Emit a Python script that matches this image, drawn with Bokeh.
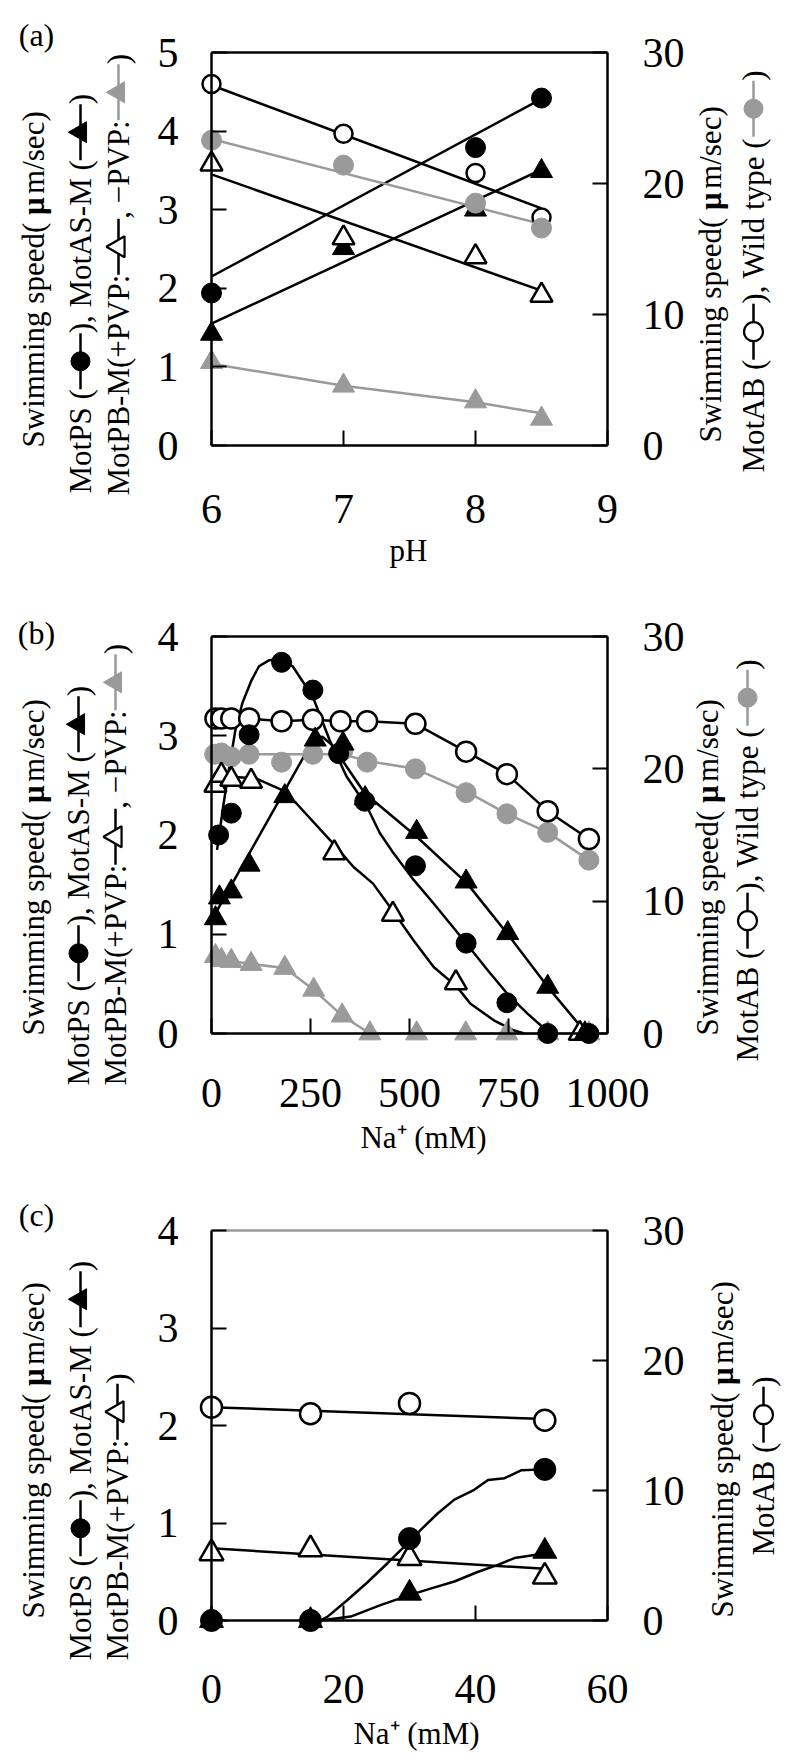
import math
from bokeh.plotting import figure
from bokeh.layouts import column
from bokeh.models import Range1d, LinearAxis, FixedTicker
from bokeh.core.properties import value
from bokeh.embed import file_html
from bokeh.resources import INLINE

# ---------------- data: panel (a)  (x = pH) ----------------
a_ph = [6, 7, 8, 8.5]
a_fit_ph = [6, 8.5]
a_motps = [1.94, float("nan"), 3.79, 4.42]
a_motps_fit = [2.15, 4.41]
a_motas = [1.42, 2.51, 3.00, 3.49]
a_motas_fit = [1.55, 3.51]
a_pvp = [3.58, 2.64, 2.40, 1.91]
a_pvp_fit = [3.45, 1.97]
a_nopvp = [1.06, 0.76, 0.56, 0.34]
a_nopvp_line = [1.04, 0.76, 0.55, 0.41]
a_motab = [27.6, 23.8, 20.8, 17.4]          # right axis
a_motab_fit = [27.5, 18.1]
a_wt = [23.3, 21.4, 18.5, 16.6]             # right axis
a_wt_fit = [23.4, 16.9]
a_xticks = [6, 7, 8, 9]
a_yticks = [0, 1, 2, 3, 4, 5]

# ---------------- data: panel (b)  (x = Na+ mM) ----------------
b_na_ab = [10, 25, 50, 95, 177, 256, 326, 393, 515, 643, 746, 849, 953]
b_motab = [23.8, 23.8, 23.8, 23.8, 23.6, 23.7, 23.6, 23.6, 23.4, 21.3, 19.6, 16.8, 14.7]
b_na_wt = [8, 25, 50, 95, 177, 256, 332, 393, 515, 643, 746, 849, 953]
b_wt = [21.1, 21.2, 20.9, 21.1, 20.5, 21.1, 21.4, 20.5, 20.0, 18.2, 16.6, 15.2, 13.1]
b_wt_line_x = [8, 330, 393, 515, 643, 746, 849, 953]
b_wt_line = [21.1, 21.1, 20.6, 20.0, 18.3, 16.6, 15.2, 13.1]
b_na_ps = [18, 50, 95, 177, 256, 321, 387, 515, 643, 746, 849, 953]
b_motps = [2.00, 2.22, 3.01, 3.74, 3.46, 2.82, 2.34, 1.69, 0.91, 0.31, 0.0, 0.0]
b_ps_curve_x = [14, 30, 44, 60, 78, 100, 120, 145, 171, 205, 256, 298, 341, 392,
                425, 459, 510, 561, 637, 697, 747, 798, 849]
b_ps_curve = [1.85, 2.30, 2.66, 3.05, 3.33, 3.55, 3.70, 3.76, 3.77, 3.70, 3.39, 2.96,
              2.59, 2.29, 2.02, 1.82, 1.55, 1.31, 0.94, 0.64, 0.40, 0.20, 0.02]
b_na_as = [10, 20, 50, 95, 185, 262, 332, 388, 518, 643, 748, 849, 943]
b_motas = [1.16, 1.37, 1.43, 1.70, 2.39, 2.96, 2.92, 2.37, 2.03, 1.53, 1.01, 0.47, 0.0]
b_as_line_x = [10, 260, 280, 306, 341, 387, 519, 646, 752, 849, 947]
b_as_line = [1.21, 2.98, 2.99, 2.90, 2.69, 2.42, 1.98, 1.51, 0.98, 0.47, 0.0]
b_na_pvp = [10, 25, 50, 100, 310, 458, 617, 930]
b_pvp = [2.50, 2.60, 2.56, 2.54, 1.82, 1.20, 0.51, 0.0]
b_pvp_line_x = [10, 44, 112, 180, 214, 315, 358, 408, 459, 510, 561, 620, 654, 714, 764, 790]
b_pvp_line = [2.52, 2.59, 2.57, 2.45, 2.32, 1.88, 1.68, 1.51, 1.23, 0.94, 0.67, 0.47,
              0.30, 0.13, 0.03, 0.0]
b_na_nopvp = [10, 25, 50, 100, 185, 258, 330, 400, 518, 642, 746, 849, 953]
b_nopvp = [0.78, 0.74, 0.73, 0.70, 0.66, 0.44, 0.18, 0, 0, 0, 0, 0, 0]
b_xticks = [0, 250, 500, 750, 1000]
b_yticks = [0, 1, 2, 3, 4]

# ---------------- data: panel (c)  (x = Na+ mM) ----------------
c_na = [0, 15, 30, 50.5]
c_fit_na = [0, 50.5]
c_motab = [16.4, 15.9, 16.7, 15.4]          # right axis
c_motab_fit = [16.4, 15.5]
c_pvp = [0.69, 0.73, 0.64, 0.45]
c_pvp_fit = [0.74, 0.53]
c_motps = [0.0, 0.0, 0.84, 1.55]
c_ps_curve_x = [16.5, 17.6, 20.6, 23.6, 26.7, 29.7, 31.7, 34.3, 36.8, 39.8, 41.9, 44.4, 46.9, 50.5]
c_ps_curve = [0, 0.04, 0.21, 0.39, 0.59, 0.79, 0.93, 1.10, 1.24, 1.34, 1.44, 1.46, 1.54, 1.55]
c_motas = [0.0, 0.0, 0.28, 0.71]
c_as_curve_x = [16.5, 21.1, 25.7, 30.0, 33.3, 36.8, 40.4, 43.4, 45.9, 49.7]
c_as_curve = [0, 0.04, 0.16, 0.26, 0.33, 0.40, 0.50, 0.57, 0.64, 0.68]
c_xticks = [0, 20, 40, 60]
c_yticks = [0, 1, 2, 3, 4]

r_ticks = [0, 10, 20, 30]

# ---------------- texts ----------------
LEFT1 = [("t", "Swimming speed( "), ("b", "\u03bc"), ("t", " m/sec)")]
LEFT2 = [("t", "MotPS ("), ("m", "circle", "k"), ("t", "), MotAS-M ("), ("m", "triangle", "k"), ("t", ")")]
LEFT3_AB = [("t", "MotPB-M(+PVP:"), ("m", "open_triangle", "k"), ("t", ", \u2212PVP:"),
            ("m", "triangle", "g"), ("t", ")")]
LEFT3_C = [("t", "MotPB-M(+PVP:"), ("m", "open_triangle", "k"), ("t", ")")]
RIGHT2_AB = [("t", "MotAB ("), ("m", "open_circle", "k"), ("t", "), Wild type ("),
             ("m", "circle", "g"), ("t", ")")]
RIGHT2_C = [("t", "MotAB ("), ("m", "open_circle", "k"), ("t", ")")]

# ---------------- style ----------------
BLACK = "#000000"
GRAY = "#9a9a9a"
COL = {"k": BLACK, "g": GRAY}
SERIF = "Liberation Serif"
FIG_W = 800
BOX_L, BOX_R = 211, 607
TITLE_FS = 31
SEG = 56
LW = 2.5

# Times / Liberation Serif advance widths (em)
WID = {" ": .25, "(": .333, ")": .333, "+": .564, ",": .25, "-": .333, "/": .278, ":": .278,
       "\u2212": .564, "\u03bc": .68,
       "A": .722, "B": .667, "M": .889, "P": .556, "S": .556, "V": .722, "W": .944,
       "a": .444, "c": .444, "d": .5, "e": .444, "g": .5, "i": .278, "l": .278, "m": .778,
       "n": .5, "o": .5, "p": .5, "s": .389, "t": .278, "w": .722, "y": .5}


def text_w(s, fs):
    return sum(WID.get(ch, 0.5) for ch in s) * fs


class Panel:
    """One figure whose frame covers the whole canvas; the plotting box sits inside it."""

    def __init__(self, fig_top, fig_h, box_t, box_b, xr, yr, rr, xticks, yticks,
                 top_color, x_standoff):
        self.box_b = box_b
        self.xr, self.yr, self.rr = xr, yr, rr
        bh = box_b - box_t
        self.dx = (xr[1] - xr[0]) / (BOX_R - BOX_L)
        self.dy = (yr[1] - yr[0]) / bh
        self.dr = (rr[1] - rr[0]) / bh
        fig_b = fig_top + fig_h
        p = figure(width=FIG_W, height=fig_h,
                   x_range=Range1d(self.X(0), self.X(FIG_W)),
                   y_range=Range1d(self.Y(fig_b), self.Y(fig_top)),
                   min_border_left=0, min_border_right=0, min_border_top=0, min_border_bottom=0,
                   output_backend="svg", toolbar_location=None)
        p.min_border = 0
        p.extra_y_ranges = {"r": Range1d(self.R(fig_b), self.R(fig_top))}
        p.outline_line_color = None
        p.xgrid.visible = False
        p.ygrid.visible = False
        p.background_fill_color = "white"
        p.border_fill_color = "white"
        xa = p.below[0]
        ya = p.left[0]
        ra = LinearAxis(y_range_name="r")
        p.add_layout(ra, "right")
        for ax in (xa, ya, ra):
            ax.axis_line_color = BLACK
            ax.axis_line_width = LW
            ax.major_tick_line_color = BLACK
            ax.major_tick_line_width = 2
            ax.minor_tick_line_color = None
            ax.major_tick_in = 15
            ax.major_tick_out = 0
            ax.major_label_text_font = SERIF
            ax.major_label_text_font_size = "42px"
            ax.major_label_text_color = BLACK
        xa.fixed_location = yr[0]
        xa.bounds = xr
        xa.ticker = FixedTicker(ticks=xticks)
        xa.major_label_standoff = x_standoff
        ya.fixed_location = xr[0]
        ya.bounds = yr
        ya.ticker = FixedTicker(ticks=yticks)
        ya.major_label_standoff = 33
        ra.fixed_location = xr[1]
        ra.bounds = rr
        ra.ticker = FixedTicker(ticks=r_ticks)
        ra.major_label_standoff = 35
        # top edge of the box
        p.line(x=[xr[0], xr[1]], y=[yr[1], yr[1]], line_color=top_color, line_width=LW)
        self.p = p

    def X(self, px):
        return self.xr[0] + (px - BOX_L) * self.dx

    def Y(self, py):
        return self.yr[0] + (self.box_b - py) * self.dy

    def R(self, py):
        return self.rr[0] + (self.box_b - py) * self.dr

    def text(self, px, py, s, fs, angle=0.0, align="center", bold=False, color=BLACK):
        self.p.text(x=[self.X(px)], y=[self.Y(py)], text=[s], angle=angle,
                    text_align=value(align), text_baseline=value("middle"),
                    text_font=value(SERIF), text_font_size=value(f"{fs}px"),
                    text_font_style=value("bold" if bold else "normal"),
                    text_color=color)

    def legend_marker(self, xc, y0, kind, color):
        y1 = y0 - SEG
        ym = (y0 + y1) / 2
        self.p.segment(x0=[self.X(xc)], y0=[self.Y(y0)], x1=[self.X(xc)], y1=[self.Y(y1)],
                       line_color=color, line_width=LW)
        is_open = kind.startswith("open")
        marker = "circle" if "circle" in kind else "triangle"
        size = 19 if marker == "circle" else 21
        self.p.scatter(x=[self.X(xc)], y=[self.Y(ym)], marker=marker, size=size,
                       angle=math.pi / 2,
                       fill_color="white" if is_open else color,
                       line_color=color, line_width=2.2 if is_open else 1)

    def title_line(self, items, xc, ystart):
        y = ystart
        for it in items:
            if it[0] in ("t", "b"):
                self.text(xc, y, it[1], TITLE_FS, angle=math.pi / 2, align="left", bold=(it[0] == "b"))
                y -= text_w(it[1], TITLE_FS)
            else:
                self.legend_marker(xc, y, it[1], COL[it[2]])
                y -= SEG


def pts(p, x, y, marker, size, filled_color=None, open_=False, right=False):
    kw = {"y_range_name": "r"} if right else {}
    if open_:
        p.scatter(x, y, marker=marker, size=size, fill_color="white", line_color=BLACK,
                  line_width=LW, **kw)
    else:
        p.scatter(x, y, marker=marker, size=size, fill_color=filled_color,
                  line_color=filled_color, line_width=1, **kw)


def ln(p, x, y, color=BLACK, right=False):
    kw = {"y_range_name": "r"} if right else {}
    p.line(x, y, line_color=color, line_width=LW, **kw)


# ================= panel (a) =================
A = Panel(0, 590, 52, 445, (6, 9), (0, 5), (0, 30), a_xticks, a_yticks, BLACK, 49)
pa = A.p
ln(pa, a_fit_ph, a_motps_fit)
ln(pa, a_fit_ph, a_motas_fit)
ln(pa, a_fit_ph, a_pvp_fit)
ln(pa, a_ph, a_nopvp_line, GRAY)
ln(pa, a_fit_ph, a_motab_fit, right=True)
ln(pa, a_fit_ph, a_wt_fit, GRAY, right=True)
pts(pa, a_ph, a_motas, "triangle", 22, BLACK)
pts(pa, a_ph, a_motps, "circle", 20, BLACK)
pts(pa, a_ph, a_pvp, "triangle", 22, open_=True)
pts(pa, a_ph, a_nopvp, "triangle", 22, GRAY)
pts(pa, a_ph, a_motab, "circle", 18, open_=True, right=True)
pts(pa, a_ph, a_wt, "circle", 20, GRAY, right=True)
A.text(36, 34, "(a)", 32)
A.text(408, 550, "pH", TITLE_FS)
A.title_line(LEFT1, 33, 447)
A.title_line(LEFT2, 80, 493)
A.title_line(LEFT3_AB, 118, 495)
A.title_line(LEFT1, 710, 442)
A.title_line(RIGHT2_AB, 753, 472)

# ================= panel (b) =================
B = Panel(590, 570, 636, 1033, (0, 1000), (0, 4), (0, 30), b_xticks, b_yticks, BLACK, 45)
pb = B.p
ln(pb, b_na_nopvp, b_nopvp, GRAY)
ln(pb, b_wt_line_x, b_wt_line, GRAY, right=True)
ln(pb, b_na_ab, b_motab, right=True)
ln(pb, b_ps_curve_x, b_ps_curve)
ln(pb, b_as_line_x, b_as_line)
ln(pb, b_pvp_line_x, b_pvp_line)
pts(pb, b_na_nopvp, b_nopvp, "triangle", 22, GRAY)
pts(pb, b_na_wt, b_wt, "circle", 20, GRAY, right=True)
pts(pb, b_na_ab, b_motab, "circle", 20, open_=True, right=True)
pts(pb, b_na_pvp, b_pvp, "triangle", 22, open_=True)
pts(pb, b_na_as, b_motas, "triangle", 22, BLACK)
pts(pb, b_na_ps, b_motps, "circle", 20, BLACK)
B.text(36, 632, "(b)", 32)
B.text(423, 1137, "Na\u207a (mM)", TITLE_FS)
B.title_line(LEFT1, 33, 1035)
B.title_line(LEFT2, 78, 1085)
B.title_line(LEFT3_AB, 115, 1085)
B.title_line(LEFT1, 707, 1035)
B.title_line(RIGHT2_AB, 747, 1061)

# ================= panel (c) =================
C = Panel(1160, 601, 1230, 1620, (0, 60), (0, 4), (0, 30), c_xticks, c_yticks, GRAY, 54)
pc = C.p
ln(pc, c_fit_na, c_motab_fit, right=True)
ln(pc, c_fit_na, c_pvp_fit)
ln(pc, c_ps_curve_x, c_ps_curve)
ln(pc, c_as_curve_x, c_as_curve)
pts(pc, c_na, c_motab, "circle", 21, open_=True, right=True)
pts(pc, c_na, c_pvp, "triangle", 24, open_=True)
pts(pc, c_na, c_motas, "triangle", 24, BLACK)
pts(pc, c_na, c_motps, "circle", 22, BLACK)
C.text(36, 1214, "(c)", 32)
C.text(416, 1733, "Na\u207a (mM)", TITLE_FS)
C.title_line(LEFT1, 33, 1618)
C.title_line(LEFT2, 80, 1660)
C.title_line(LEFT3_C, 117, 1660)
C.title_line(LEFT1, 722, 1617)
C.title_line(RIGHT2_C, 763, 1555)

layout = column(pa, pb, pc, spacing=0)
open("out.html", "w").write(file_html(layout, INLINE))
